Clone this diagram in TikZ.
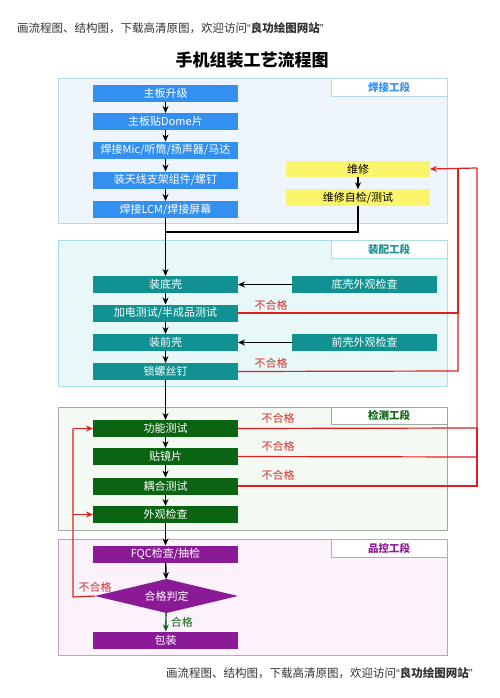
\documentclass[tikz,border=0pt]{standalone}
\usepackage{fontspec}
\setmainfont{Noto Sans CJK SC}
\newfontfamily\latinq{Liberation Sans}
\usetikzlibrary{arrows.meta,shapes.geometric}
\definecolor{sblue}{HTML}{3390F0}
\definecolor{sbluefill}{HTML}{EEF5FC}
\definecolor{sblueline}{HTML}{B8D8EE}
\definecolor{syellow}{HTML}{FAF56A}
\definecolor{steal}{HTML}{119191}
\definecolor{stealfill}{HTML}{E8F8F8}
\definecolor{stealline}{HTML}{A8E0E0}
\definecolor{sgreen}{HTML}{0B6411}
\definecolor{sgreenfill}{HTML}{F5F9F3}
\definecolor{sgreenline}{HTML}{A0A8A0}
\definecolor{spurple}{HTML}{8B1A96}
\definecolor{spurplefill}{HTML}{FCF2FC}
\definecolor{spurpleline}{HTML}{C89AD0}
\definecolor{sred}{HTML}{E02020}
\definecolor{slabred}{HTML}{D03030}
\definecolor{sgray}{HTML}{333333}
\newcommand{\notetext}{画流程图、结构图，下载高清原图，欢迎访问{\latinq “}\textbf{良功绘图网站}{\latinq ”}}
\begin{document}
\begin{tikzpicture}[x=1pt,y=-1pt,
  every node/.style={inner sep=0pt,outer sep=0pt},
  stepbox/.style={rectangle,minimum width=145pt,minimum height=17pt,text=white,font=\fontsize{11}{13}\selectfont},
  bluebox/.style={stepbox,fill=sblue},
  yelbox/.style={stepbox,fill=syellow,text=black},
  tealbox/.style={stepbox,fill=steal},
  grnbox/.style={stepbox,fill=sgreen},
  purbox/.style={stepbox,fill=spurple},
  stagelab/.style={rectangle,draw,fill=white,minimum width=116pt,minimum height=18pt,font=\bfseries\fontsize{10.5}{12}\selectfont,anchor=north west},
  flow/.style={draw=black,line width=1.4pt,-{Stealth[length=7pt,width=6pt]}},
  plainflow/.style={draw=black,line width=1.4pt},
  redline/.style={draw=sred,line width=1.2pt},
  redflow/.style={redline,-{Stealth[length=7pt,width=6pt]}},
  redlab/.style={text=slabred,font=\fontsize{11}{13}\selectfont},
  note/.style={text=sgray,font=\fontsize{11.5}{13}\selectfont,anchor=west}
]
\useasboundingbox[fill=white] (0,0) rectangle (500,698);

% header / title / footer
\node[note] (hdr) at (17,28) {\notetext};
\node[font=\bfseries\fontsize{17}{20}\selectfont] (title) at (252,60) {手机组装工艺流程图};
\node[note] (ftr) at (166,673) {\notetext};

% stage frames
\draw[sblueline,fill=sbluefill] (58,78) rectangle (447,223);
\node[stagelab,draw=sblueline,text=sblue] (lab1) at (331,78) {焊接工段};
\draw[stealline,fill=stealfill] (58,240) rectangle (447,386);
\node[stagelab,draw=stealline,text=steal] (lab2) at (331,240) {装配工段};
\draw[sgreenline,fill=sgreenfill] (58,407) rectangle (447,530);
\node[stagelab,draw=sgreenline,text=sgreen,minimum height=17pt] (lab3) at (331,407) {检测工段};
\draw[spurpleline,fill=spurplefill] (58,539) rectangle (447,655);
\node[stagelab,draw=spurpleline,text=spurple] (lab4) at (331,539) {品控工段};

% stage 1
\node[bluebox] (a1) at (165.5,93.5) {主板升级};
\node[bluebox] (a2) at (165.5,121.5) {主板贴Dome片};
\node[bluebox] (a3) at (165.5,150) {焊接Mic/听筒/扬声器/马达};
\node[bluebox] (a4) at (165.5,180) {装天线支架组件/螺钉};
\node[bluebox] (a5) at (165.5,209.5) {焊接LCM/焊接屏幕};
\node[yelbox,minimum width=144pt,minimum height=16.5pt] (y1) at (358,169) {维修};
\node[yelbox,minimum width=144pt,minimum height=16.5pt] (y2) at (358,197.5) {维修自检/测试};

% stage 2
\node[tealbox] (b1) at (165.5,284.5) {装底壳};
\node[tealbox] (b2) at (165.5,313) {加电测试/半成品测试};
\node[tealbox] (b3) at (165.5,342.5) {装前壳};
\node[tealbox] (b4) at (165.5,371.5) {锁螺丝钉};
\node[tealbox] (r1) at (364.5,284.5) {底壳外观检查};
\node[tealbox] (r2) at (364.5,342.5) {前壳外观检查};

% stage 3
\node[grnbox] (c1) at (165.5,428.5) {功能测试};
\node[grnbox] (c2) at (165.5,456.5) {贴镜片};
\node[grnbox] (c3) at (165.5,486) {耦合测试};
\node[grnbox] (c4) at (165.5,514.5) {外观检查};

% stage 4
\node[purbox] (d1) at (165.5,554) {FQC检查/抽检};
\node[diamond,fill=spurple,text=white,minimum width=143pt,minimum height=34pt,aspect=4.2,inner sep=0pt,font=\fontsize{11}{13}\selectfont] (dm) at (166.5,596) {合格判定};
\node[purbox] (d2) at (165.5,640) {包装};

% coordinates
\coordinate (j1) at (165.5,232);
\coordinate (rA) at (458,168);
\coordinate (rB) at (477,168);
\coordinate (rb2) at (458,313);
\coordinate (rb4) at (458,371);
\coordinate (rc1) at (477,428);
\coordinate (rc2) at (477,457);
\coordinate (rc3) at (477,486);
\coordinate (lA) at (73,597);
\coordinate (lB) at (73,428.5);
\coordinate (lC) at (73,514.5);

% black flow
\draw[flow] (a1) -- (a2);
\draw[flow] (a2) -- (a3);
\draw[flow] (a3) -- (a4);
\draw[flow] (a4) -- (a5);
\draw[flow] (a5) -- (b1);
\draw[flow] (y1) -- (y2);
\draw[plainflow] (y2.south) |- (j1);
\draw[flow] (r1) -- (b1);
\draw[flow] (r2) -- (b3);
\draw[flow] (b1) -- (b2);
\draw[flow] (b2) -- (b3);
\draw[flow] (b3) -- (b4);
\draw[flow] (b4) -- (c1);
\draw[flow] (c1) -- (c2);
\draw[flow] (c2) -- (c3);
\draw[flow] (c3) -- (c4);
\draw[flow] (c4) -- (d1);
\draw[flow] (d1) -- (dm);
\draw[draw=sgreen,line width=1.4pt,-{Stealth[length=7pt,width=6pt]}] (dm) -- (d2)
  node[pos=0.5,right=5pt,text=sgreen,font=\fontsize{11}{13}\selectfont] (ok) {合格};

% red rework lines
\draw[redline] (b2.east) -- (rb2) -- (rA);
\draw[redline] (b4.east) -- (rb4) -- (rb2);
\draw[redline] (c1.east) -- (rc1) -- (rB);
\draw[redline] (c2.east) -- (rc2);
\draw[redline] (c3.east) -- (rc3) -- (rc1);
\draw[redflow] (rB) -- (y1.east);
\draw[redline] (dm.west) -- (lA) -- (lB);
\draw[redflow] (lB) -- (c1.west);
\draw[redflow] (lC) -- (c4.west);

% red labels
\node[redlab] (n1) at (271,305) {不合格};
\node[redlab] (n2) at (271,363) {不合格};
\node[redlab] (n3) at (278,418) {不合格};
\node[redlab] (n4) at (278,446) {不合格};
\node[redlab] (n5) at (278,475) {不合格};
\node[redlab] (n6) at (95,587) {不合格};
\end{tikzpicture}
\end{document}
